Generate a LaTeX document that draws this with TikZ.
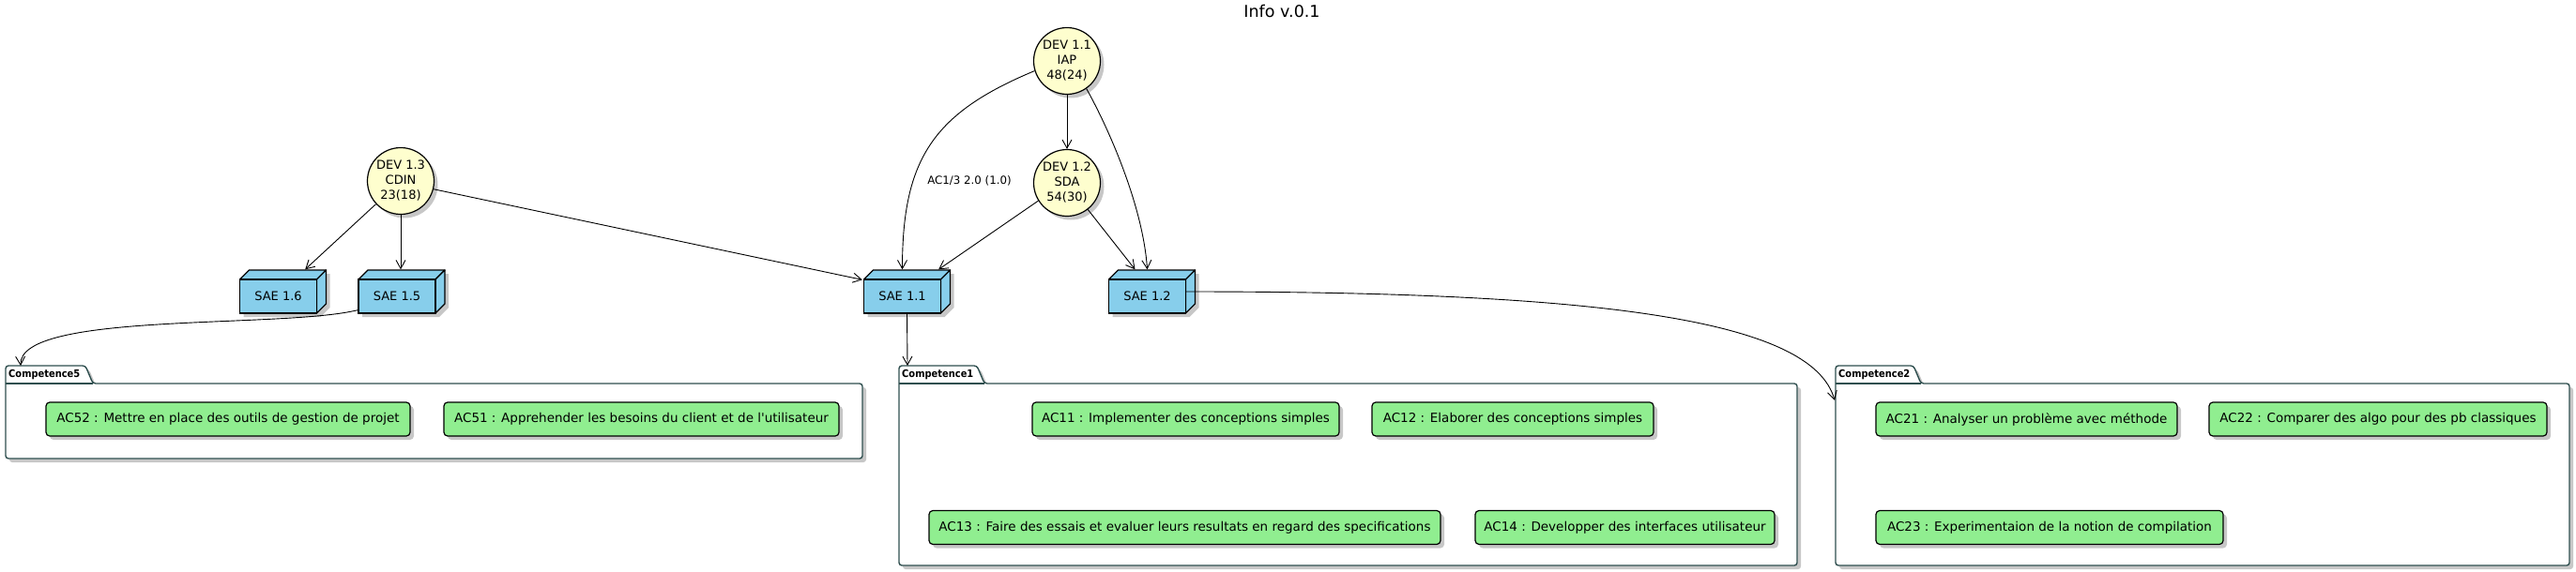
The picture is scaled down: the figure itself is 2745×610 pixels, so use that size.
\documentclass[tikz,border=0pt]{standalone}
\usepackage{fontspec}
\setmainfont{DejaVu Sans}[Ligatures=TeXOff]
\newfontfamily\pkgfont{DejaVu Sans}[FakeStretch=0.9, Ligatures=TeXOff]
\usetikzlibrary{arrows.meta,shadows,calc}
\definecolor{devfill}{HTML}{FEFECE}
\definecolor{saefill}{HTML}{87CEEB}
\definecolor{acfill}{HTML}{90EE90}
\definecolor{pkgcol}{HTML}{2F4F4F}
\tikzset{
  myshadow/.style={drop shadow={shadow xshift=4pt, shadow yshift=-4pt, fill=black, opacity=0.22}},
  dev/.style={circle, draw=black, line width=1.2pt, fill=devfill, minimum size=71, inner sep=0pt,
    align=center, font=\fontsize{13}{16}\selectfont, myshadow},
  sae/.style={rectangle, draw=black, line width=1.3pt, fill=saefill, minimum width=82, minimum height=36,
    inner sep=0pt, font=\fontsize{13}{16}\selectfont},
  saeface/.style={draw=black, line width=1.3pt, fill=saefill, line join=round},
  saeshadow/.style={fill=black, opacity=0.22},
  ac/.style={rectangle, rounded corners=4pt, draw=black, line width=1.2pt, fill=acfill, minimum height=36,
    inner sep=0pt, font=\fontsize{13.5}{16}\selectfont, myshadow},
  pkg/.style={draw=pkgcol, line width=1.4pt, fill=white, rounded corners=3pt, myshadow},
  pkgsep/.style={draw=pkgcol, line width=1.4pt},
  pkglabel/.style={inner sep=0pt, font=\pkgfont\bfseries\fontsize{11}{13}\selectfont},
  edge/.style={draw=black, line width=0.9pt, -{Straight Barb[length=9pt,width=10pt,line width=0.9pt]}},
  lbl/.style={inner sep=0pt, font=\fontsize{11.8}{14}\selectfont},
  ttl/.style={inner sep=0pt, font=\fontsize{17.5}{20}\selectfont}
}
% #1 name, #2 x, #3 y (centre of front face), #4 text
\newcommand\saebox[4]{%
  \fill[saeshadow, shift={(#2+4,#3+4)}] (-41,18) -- (-41,-18) -- (-31,-28) -- (51,-28) -- (51,8) -- (41,18) -- cycle;
  \filldraw[saeface, shift={(#2,#3)}] (-41,-18) -- (-31,-28) -- (51,-28) -- (41,-18) -- cycle;
  \filldraw[saeface, shift={(#2,#3)}] (41,-18) -- (51,-28) -- (51,8) -- (41,18) -- cycle;
  \node[sae] (#1) at (#2,#3) {#4};
}
% #1 left, #2 right, #3 bottom, #4 tab top right, #5 tab bottom right, #6 name, #7 label
\newcommand\pkgbox[7]{%
  \path[pkg] (#1,430) -- (#1,390) -- (#4,390) -- (#5,409) -- (#2,409) -- (#2,#3) -- (#1,#3) -- cycle;
  \draw[pkgsep] (#1,409) -- (#5,409);
  \node[pkglabel, anchor=west] (#6) at (#1+3,400) {#7};
}
\begin{document}
\begin{tikzpicture}[x=1pt,y=-1pt]
\useasboundingbox[fill=white] (0,0) rectangle (2745,610);

\node[ttl] (title) at (1366,12) {Info v.0.1};

% packages
\pkgbox{6}{919}{489}{91}{99}{comp5}{Competence5}
\pkgbox{958}{1915}{603}{1041}{1049}{comp1}{Competence1}
\pkgbox{1956}{2738}{603}{2039}{2047}{comp2}{Competence2}
\coordinate (c5in) at (22,390);
\coordinate (c1in) at (967,390);
\coordinate (c2in) at (1955,427);

% AC boxes
\node[ac, minimum width=388] (ac52) at (243,447) {AC52 : Mettre en place des outils de gestion de projet};
\node[ac, minimum width=421] (ac51) at (683.5,447) {AC51 : Apprehender les besoins du client et de l'utilisateur};
\node[ac, minimum width=327] (ac11) at (1263.5,447) {AC11 : Implementer des conceptions simples};
\node[ac, minimum width=300] (ac12) at (1612,447) {AC12 : Elaborer des conceptions simples};
\node[ac, minimum width=545] (ac13) at (1262.5,562.5) {AC13 : Faire des essais et evaluer leurs resultats en regard des specifications};
\node[ac, minimum width=319] (ac14) at (1731.5,562.5) {AC14 : Developper des interfaces utilisateur};
\node[ac, minimum width=321] (ac21) at (2159.5,447) {AC21 : Analyser un problème avec méthode};
\node[ac, minimum width=360] (ac22) at (2534,447) {AC22 : Comparer des algo pour des pb classiques};
\node[ac, minimum width=370] (ac23) at (2184,562.5) {AC23 : Experimentaion de la notion de compilation};

% DEV circles
\node[dev] (d11) at (1137,65) {DEV 1.1\\IAP\\48(24)};
\node[dev] (d12) at (1137,195) {DEV 1.2\\SDA\\54(30)};
\node[dev] (d13) at (427,193) {DEV 1.3\\CDIN\\23(18)};

% SAE boxes
\saebox{s16}{296.5}{316}{SAE 1.6}
\saebox{s15}{423}{316}{SAE 1.5}
\saebox{s11}{961.5}{316}{SAE 1.1}
\saebox{s12}{1222.5}{316}{SAE 1.2}

% edges
\draw[edge] (d11) -- (d12);
\draw[edge] (d11.-163) .. controls +(-108,45) and +(0,-118) .. ($(s11.north)+(0,-10)$);
\node[lbl] (lab) at (1033,193) {AC1/3 2.0 (1.0)};
\draw[edge] (d11.-55) .. controls +(23,41) and +(-4.5,-68) .. ($(s12.north)+(0,-10)$);
\draw[edge] (d12.-148) -- ($(s11.north east)+(-3,-10)$);
\draw[edge] (d12.-52) -- ($(s12.north)+(-13,-10)$);
\draw[edge] (d13.-137) -- ($(s16.north east)+(-13,-10)$);
\draw[edge] (d13.south) -- ($(s15.north)+(4,-10)$);
\draw[edge] (d13.-14) -- ($(s11.north west)+(-1,1)$);
\draw[edge] ($(s11.south)+(5,0)$) -- (c1in);
\draw[edge] ($(s15.south west)+(0,-4)$) .. controls +(-82,20) and +(-2,-58) .. (c5in);
\draw[edge] ($(s12.east)+(0,-5)$) .. controls +(437,0) and +(-24,-87) .. (c2in);
\end{tikzpicture}
\end{document}
